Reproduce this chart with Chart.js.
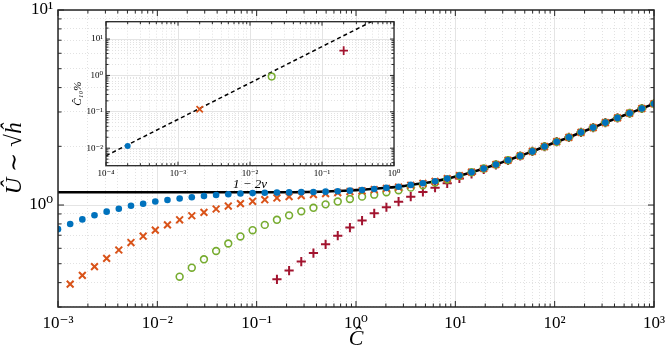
<!DOCTYPE html>
<html lang="en">
  <head>
    <meta charset="UTF-8" />
    <title>U vs C</title>
  </head>
  <style>
    * {
      margin: 0;
      padding: 0;
    }
    body {
      background: #fff;
      width: 665px;
      height: 352px;
      overflow: hidden;
    }
    .wrap {
      position: relative;
      width: 665px;
      height: 352px;
    }
    #mainChart {
      position: absolute;
      left: 0;
      top: 0;
    }
    #insetChart {
      position: absolute;
      left: 70px;
      top: 14px;
    }
  </style>
  <body>
    <div class="wrap">
      <canvas id="mainChart" width="665" height="352"></canvas>
      <canvas id="insetChart" width="335" height="180"></canvas>
    </div>

    <script src="https://cdn.jsdelivr.net/npm/chart.js"></script>

    <script>
      // data block (main axes)
      const cHat = [
        0.001, 0.001326, 0.001758, 0.00233, 0.003089, 0.004095, 0.005429, 0.007197, 0.009541, 0.01265,
        0.01677, 0.02223, 0.02947, 0.03907, 0.0518, 0.06866, 0.09103, 0.1207, 0.16, 0.2121,
        0.2812, 0.3728, 0.4942, 0.6551, 0.8685, 1.151, 1.526, 2.024, 2.683, 3.556,
        4.715, 6.251, 8.286, 10.99, 14.56, 19.31, 25.6, 33.93, 44.98, 59.64,
        79.06, 104.8, 139, 184.2, 244.2, 323.7, 429.2, 569, 754.3, 1000
      ];
      const uBlue = [
        0.752, 0.8, 0.844, 0.887, 0.925, 0.957, 0.991, 1.016, 1.042, 1.061,
        1.08, 1.097, 1.113, 1.126, 1.135, 1.146, 1.151, 1.155, 1.158, 1.161,
        1.164, 1.167, 1.171, 1.177, 1.185, 1.195, 1.209, 1.224, 1.24, 1.268,
        1.294, 1.325, 1.366, 1.416, 1.474, 1.539, 1.614, 1.697, 1.786, 1.884,
        1.995, 2.112, 2.223, 2.359, 2.494, 2.647, 2.798, 2.956, 3.125, 3.305
      ];
      const uOrange = [
        null, 0.393, 0.436, 0.483, 0.533, 0.588, 0.642, 0.692, 0.743, 0.791,
        0.84, 0.881, 0.917, 0.954, 0.988, 1.016, 1.045, 1.065, 1.087, 1.104,
        1.117, 1.13, 1.144, 1.157, 1.171, 1.183, 1.199, 1.216, 1.234, 1.263,
        1.291, 1.323, 1.365, 1.416, 1.474, 1.539, 1.614, 1.697, 1.786, 1.884,
        1.995, 2.112, 2.223, 2.359, 2.494, 2.647, 2.798, 2.956, 3.125, 3.305
      ];
      const uGreen = [
        null, null, null, null, null, null, null, null, null, null,
        0.429, 0.477, 0.527, 0.581, 0.635, 0.69, 0.743, 0.791, 0.84, 0.885,
        0.928, 0.968, 1.008, 1.042, 1.074, 1.104, 1.13, 1.163, 1.191, 1.228,
        1.263, 1.305, 1.352, 1.41, 1.472, 1.538, 1.614, 1.697, 1.786, 1.884,
        1.995, 2.112, 2.223, 2.359, 2.494, 2.647, 2.798, 2.956, 3.125, 3.305
      ];
      const uRed = [
        null, null, null, null, null, null, null, null, null, null,
        null, null, null, null, null, null, null, null, 0.416, 0.461,
        0.513, 0.567, 0.629, 0.696, 0.766, 0.832, 0.907, 0.974, 1.04, 1.104,
        1.167, 1.227, 1.292, 1.368, 1.445, 1.525, 1.605, 1.692, 1.784, 1.882,
        1.995, 2.112, 2.223, 2.359, 2.494, 2.647, 2.798, 2.956, 3.125, 3.305
      ];
      const uTheory = [
        1.162, 1.162, 1.162, 1.162, 1.162, 1.162, 1.162, 1.162, 1.162, 1.162,
        1.162, 1.162, 1.162, 1.162, 1.162, 1.162, 1.162, 1.162, 1.162, 1.162,
        1.165, 1.168, 1.173, 1.18, 1.188, 1.198, 1.211, 1.226, 1.243, 1.268,
        1.294, 1.325, 1.366, 1.416, 1.474, 1.539, 1.614, 1.697, 1.786, 1.884,
        1.995, 2.112, 2.223, 2.359, 2.494, 2.647, 2.798, 2.956, 3.125, 3.305
      ];
      const xMajor = [1e-3, 1e-2, 1e-1, 1e0, 1e1, 1e2, 1e3];
      const xLabels = ["10⁻³", "10⁻²", "10⁻¹", "10⁰", "10¹", "10²", "10³"];
      const yMajor = [1e0, 1e1];
      const yLabels = ["10⁰", "10¹"];

      // data block (inset)
      const nuInset = [2e-4, 2e-3, 2e-2, 2e-1];
      const c10Inset = [0.0115, 0.118, 0.93, 4.8];
      const fitNu = [1e-4, 1];
      const fitC10 = [0.0062, 62];
      const insetXMajor = [1e-4, 1e-3, 1e-2, 1e-1, 1e0];
      const insetXLabels = ["10⁻⁴", "10⁻³", "10⁻²", "10⁻¹", "10⁰"];
      const insetYMajor = [1e-2, 1e-1, 1e0, 1e1];
      const insetYLabels = ["10⁻²", "10⁻¹", "10⁰", "10¹"];

      const blue = "#0072BD";
      const orange = "#D95319";
      const green = "#77AC30";
      const red = "#A2142F";
      const axisCol = "#262626";
      const serif = "'Liberation Serif', 'DejaVu Serif', serif";

      function points(xs, ys) {
        const out = [];
        xs.forEach((x, i) => {
          if (ys[i] !== null && ys[i] !== undefined) out.push({ x, y: ys[i] });
        });
        return out;
      }

      // majors plus 2..9 in every decade, kept inside [min, max]
      function logTicks(majors, min, max) {
        const list = majors.map((v) => ({ value: v, major: true }));
        const lo = Math.floor(Math.log10(min));
        const hi = Math.ceil(Math.log10(max));
        for (let e = lo; e < hi; e++) {
          for (let m = 2; m <= 9; m++) {
            const v = m * Math.pow(10, e);
            if (v >= min * 0.999 && v <= max * 1.001) list.push({ value: v, major: false });
          }
        }
        return list.filter((t) => t.value >= min * 0.999 && t.value <= max * 1.001).sort((a, b) => a.value - b.value);
      }

      function labelFor(majors, labels) {
        return (value) => {
          const k = majors.findIndex((m) => Math.abs(Math.log10(m) - Math.log10(value)) < 1e-6);
          return k >= 0 ? labels[k] : "";
        };
      }

      // fixed axis size, no extra room for overhanging labels
      function fitX(h) {
        return (s) => {
          s.height = h;
          s.paddingLeft = 0;
          s.paddingRight = 0;
        };
      }
      function fitY(w) {
        return (s) => {
          s.width = w;
          s.paddingTop = 0;
          s.paddingBottom = 0;
        };
      }

      // plugin block: white plot box, inward ticks on all four sides, box line
      const boxTicks = {
        id: "boxTicks",
        beforeDraw(chart, args, opts) {
          if (!opts.fillWhite) return;
          const { ctx, chartArea: { left, top, right, bottom } } = chart;
          ctx.save();
          ctx.fillStyle = "#fff";
          ctx.fillRect(left, top, right - left, bottom - top);
          ctx.restore();
        },
        afterDatasetsDraw(chart, args, opts) {
          const {
            ctx,
            chartArea: { left, top, right, bottom },
            scales: { x, y }
          } = chart;
          ctx.save();
          ctx.strokeStyle = axisCol;
          ctx.lineWidth = opts.tickWidth;
          ctx.beginPath();
          x.ticks.forEach((t) => {
            const px = x.getPixelForValue(t.value);
            const len = t.major ? opts.major : opts.minor;
            ctx.moveTo(px, bottom);
            ctx.lineTo(px, bottom - len);
            ctx.moveTo(px, top);
            ctx.lineTo(px, top + len);
          });
          y.ticks.forEach((t) => {
            const py = y.getPixelForValue(t.value);
            const len = t.major ? opts.major : opts.minor;
            ctx.moveTo(left, py);
            ctx.lineTo(left + len, py);
            ctx.moveTo(right, py);
            ctx.lineTo(right - len, py);
          });
          ctx.stroke();
          ctx.lineWidth = opts.boxWidth;
          ctx.strokeRect(left, top, right - left, bottom - top);
          ctx.restore();
        }
      };

      function gridOpts() {
        return {
          drawTicks: false,
          color: (c) => (c.tick && c.tick.major ? "#e4e4e4" : "#e2e2e2"),
          lineWidth: 1
        };
      }
      function borderOpts() {
        return {
          display: false,
          dash: (c) => (c.tick && c.tick.major ? [] : [1, 2])
        };
      }

      // config block (main)
      const mainConfig = {
        type: "scatter",
        data: {
          datasets: [
            {
              data: points(cHat, uBlue),
              pointStyle: "circle",
              pointRadius: 3.3,
              backgroundColor: blue,
              borderColor: blue,
              borderWidth: 0
            },
            {
              data: points(cHat, uOrange),
              pointStyle: "crossRot",
              pointRadius: 4.8,
              borderColor: orange,
              borderWidth: 2
            },
            {
              data: points(cHat, uGreen),
              pointStyle: "circle",
              pointRadius: 3.4,
              backgroundColor: "rgba(0,0,0,0)",
              borderColor: green,
              borderWidth: 1.6
            },
            {
              data: points(cHat, uRed),
              pointStyle: "cross",
              pointRadius: 4.6,
              borderColor: red,
              borderWidth: 2
            },
            {
              type: "line",
              data: points(cHat, uTheory),
              showLine: true,
              borderColor: "#000",
              borderWidth: 2.6,
              pointRadius: 0,
              tension: 0.3,
              fill: false
            }
          ]
        },
        options: {
          responsive: false,
          animation: false,
          devicePixelRatio: 1,
          events: [],
          layout: { padding: { top: 10, right: 11, left: 0, bottom: 0 } },
          plugins: {
            legend: { display: false },
            tooltip: { enabled: false },
            boxTicks: { major: 6, minor: 3.5, tickWidth: 1, boxWidth: 1.5, fillWhite: false }
          },
          scales: {
            x: {
              type: "logarithmic",
              min: 1e-3,
              max: 1e3,
              afterBuildTicks: (s) => {
                s.ticks = logTicks(xMajor, 1e-3, 1e3);
              },
              afterFit: fitX(45),
              grid: gridOpts(),
              border: borderOpts(),
              ticks: {
                autoSkip: false,
                maxRotation: 0,
                padding: 6,
                color: "#000",
                font: { family: serif, size: 17 },
                callback: labelFor(xMajor, xLabels)
              },
              title: {
                display: true,
                text: "Ĉ",
                color: "#000",
                font: { family: serif, size: 22, style: "italic" },
                padding: { top: 0, bottom: 0 }
              }
            },
            y: {
              type: "logarithmic",
              min: 0.3,
              max: 10,
              afterBuildTicks: (s) => {
                s.ticks = logTicks(yMajor, 0.3, 10);
              },
              afterFit: fitY(58),
              grid: gridOpts(),
              border: borderOpts(),
              ticks: {
                autoSkip: false,
                padding: 5,
                color: "#000",
                font: { family: serif, size: 17 },
                callback: labelFor(yMajor, yLabels)
              },
              title: {
                display: true,
                text: "Û ∼ √ĥ",
                color: "#000",
                font: { family: serif, size: 23, style: "italic" },
                padding: { top: 1, bottom: 0 }
              }
            }
          }
        },
        plugins: [boxTicks]
      };

      // config block (inset)
      const insetConfig = {
        type: "scatter",
        data: {
          datasets: [
            {
              data: [{ x: nuInset[0], y: c10Inset[0] }],
              pointStyle: "circle",
              pointRadius: 3,
              backgroundColor: blue,
              borderWidth: 0
            },
            {
              data: [{ x: nuInset[1], y: c10Inset[1] }],
              pointStyle: "crossRot",
              pointRadius: 4.5,
              borderColor: orange,
              borderWidth: 1.8
            },
            {
              data: [{ x: nuInset[2], y: c10Inset[2] }],
              pointStyle: "circle",
              pointRadius: 3.3,
              backgroundColor: "rgba(0,0,0,0)",
              borderColor: green,
              borderWidth: 1.5
            },
            {
              data: [{ x: nuInset[3], y: c10Inset[3] }],
              pointStyle: "cross",
              pointRadius: 4.3,
              borderColor: red,
              borderWidth: 1.8
            },
            {
              type: "line",
              data: points(fitNu, fitC10),
              showLine: true,
              borderColor: "#000",
              borderWidth: 1.5,
              borderDash: [4, 3],
              pointRadius: 0,
              fill: false
            }
          ]
        },
        options: {
          responsive: false,
          animation: false,
          devicePixelRatio: 1,
          events: [],
          layout: { padding: { top: 7.7, right: 11, left: 0, bottom: 0 } },
          plugins: {
            legend: { display: false },
            tooltip: { enabled: false },
            boxTicks: { major: 4, minor: 2.5, tickWidth: 1, boxWidth: 1.3, fillWhite: true }
          },
          scales: {
            x: {
              type: "logarithmic",
              min: 1e-4,
              max: 1,
              afterBuildTicks: (s) => {
                s.ticks = logTicks(insetXMajor, 1e-4, 1);
              },
              afterFit: fitX(28.3),
              grid: gridOpts(),
              border: borderOpts(),
              ticks: {
                autoSkip: false,
                maxRotation: 0,
                padding: 3,
                color: "#000",
                font: { family: serif, size: 9 },
                callback: labelFor(insetXMajor, insetXLabels)
              },
              title: {
                display: true,
                text: "1 − 2ν",
                color: "#000",
                font: { family: serif, size: 13, style: "italic" },
                padding: { top: 0, bottom: 2 }
              }
            },
            y: {
              type: "logarithmic",
              min: 0.0033,
              max: 30,
              afterBuildTicks: (s) => {
                s.ticks = logTicks(insetYMajor, 0.0033, 30);
              },
              afterFit: fitY(36),
              grid: gridOpts(),
              border: borderOpts(),
              ticks: {
                autoSkip: false,
                padding: 3,
                color: "#000",
                font: { family: serif, size: 9 },
                callback: labelFor(insetYMajor, insetYLabels)
              },
              title: {
                display: true,
                text: "Ĉ₁₀%",
                color: "#000",
                font: { family: serif, size: 11, style: "italic" },
                padding: { top: 2, bottom: 0 }
              }
            }
          }
        },
        plugins: [boxTicks]
      };

      // init render block
      const mainChart = new Chart(document.getElementById("mainChart"), mainConfig);
      const insetChart = new Chart(document.getElementById("insetChart"), insetConfig);
    </script>
  </body>
</html>
